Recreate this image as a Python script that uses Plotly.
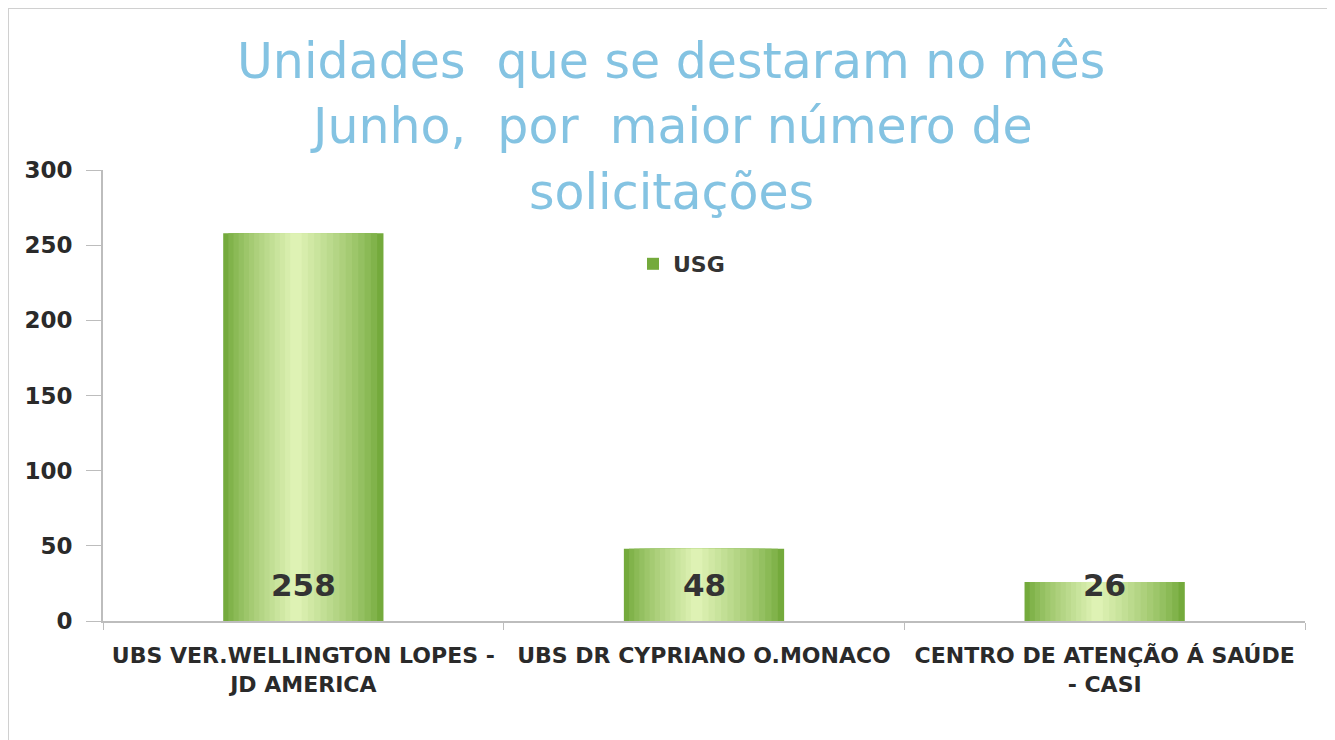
import plotly.graph_objects as go

categories = ["UBS VER.WELLINGTON LOPES -<br>JD AMERICA",
              "UBS DR CYPRIANO O.MONACO",
              "CENTRO DE ATENÇÃO Á SAÚDE<br>- CASI"]
values = [258, 48, 26]
series_name = "USG"
title_lines = ["Unidades  que se destaram no mês",
               "Junho,  por  maior número de",
               "solicitações"]
y_ticks = [0, 50, 100, 150, 200, 250, 300]

# page body has an 8px margin; figure sized so plot area lands where wanted
BODY = 8
PLOT_L, PLOT_R, PLOT_T, PLOT_B = 103, 1305, 170, 621
FIG_W, FIG_H = 1335 - BODY, 740 - BODY
PW, PH = PLOT_R - PLOT_L, PLOT_B - PLOT_T

# gradient layers (edge -> centre)
edge = (116, 170, 60)
centre = (222, 242, 180)
n_layers = 14
full_w = 0.4
shift = 0.02

fig = go.Figure()
for i in range(n_layers):
    t = i / (n_layers - 1)
    tt = t ** 0.8
    col = tuple(int(edge[k] + (centre[k] - edge[k]) * tt) for k in range(3))
    w = full_w * (1 - i / n_layers)
    fig.add_trace(go.Bar(
        x=categories, y=values, width=w,
        offset=-w / 2 - shift * (1 - w / full_w),
        marker=dict(color="rgb(%d,%d,%d)" % col, line=dict(width=0)),
        name=series_name, showlegend=(i == 0), hoverinfo="skip" if i else None,
    ))

FONT = "DejaVu Sans"
for c, v in zip(categories, values):
    fig.add_annotation(x=c, y=0, yshift=36, text="<b>%d</b>" % v, showarrow=False,
                       font=dict(family=FONT, size=31, color="#333333"),
                       xref="x", yref="y", yanchor="middle")

title_font = dict(family=FONT, size=49, color="#84c3e2")
for j, line in enumerate(title_lines):
    ypix = 62 + j * 65
    fig.add_annotation(x=(671 - PLOT_L) / PW, y=(PLOT_B - ypix) / PH, text=line,
                       showarrow=False, xref="paper", yref="paper",
                       xanchor="center", yanchor="middle", font=title_font)

fig.update_layout(
    width=FIG_W, height=FIG_H,
    margin=dict(l=PLOT_L - BODY, r=FIG_W - (PLOT_R - BODY), t=PLOT_T - BODY,
                b=FIG_H - (PLOT_B - BODY), autoexpand=False),
    paper_bgcolor="white", plot_bgcolor="white",
    barmode="overlay", bargap=0.6,
    showlegend=True,
    legend=dict(x=(633 - PLOT_L) / PW, y=(PLOT_B - 264) / PH, xanchor="left", yanchor="middle",
                font=dict(family=FONT, size=22, color="#333333", weight="bold"),
                bgcolor="rgba(0,0,0,0)", itemwidth=30),
    xaxis=dict(type="category", showline=True, linecolor="#bdbdbd", linewidth=2,
               ticks="outside", tickson="boundaries", ticklen=7, tickcolor="#bdbdbd",
               tickangle=0,
               tickfont=dict(family=FONT, size=22, color="#2a2a2a", weight="bold"),
               showgrid=False, ticklabelstandoff=14, fixedrange=True),
    yaxis=dict(range=[0, 300], tickvals=y_ticks, showline=True, linecolor="#bdbdbd",
               linewidth=2, ticks="outside", ticklen=15, tickcolor="#bdbdbd",
               tickfont=dict(family=FONT, size=23, color="#2a2a2a", weight="bold"),
               showgrid=False, zeroline=False, ticklabelstandoff=9, fixedrange=True),
    shapes=[dict(type="rect", xref="paper", yref="paper",
                 x0=(8 - PLOT_L) / PW, x1=(1330 - PLOT_L) / PW,
                 y0=(PLOT_B - 760) / PH, y1=(PLOT_B - 8) / PH,
                 line=dict(color="#d0d0d0", width=2), fillcolor="rgba(0,0,0,0)")],
)

fig.write_html("out.html")
